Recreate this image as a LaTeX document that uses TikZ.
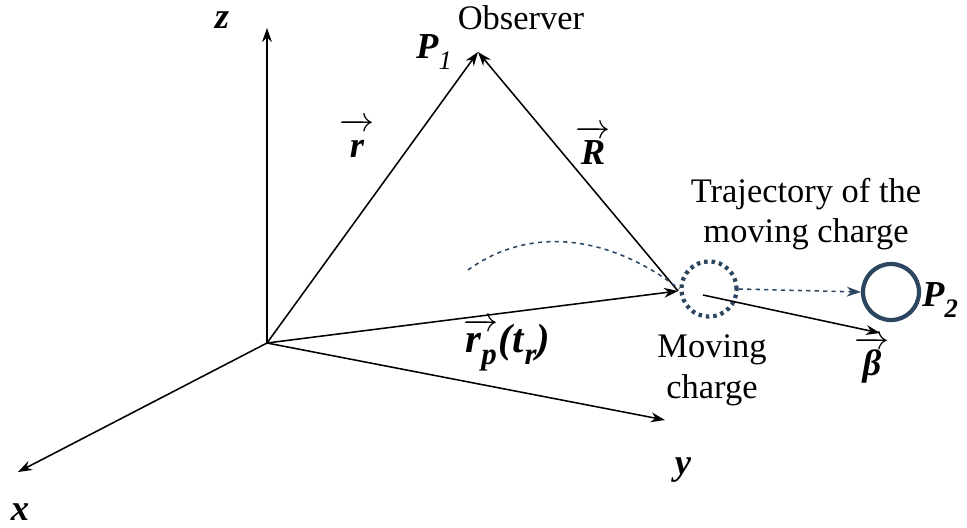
\documentclass[tikz,border=0pt]{standalone}
\usepackage{fontspec}
\setmainfont{Liberation Serif}
\usetikzlibrary{arrows.meta}
\newcommand{\bi}[1]{\textbf{\textit{#1}}}
\newcommand{\sub}[2][19]{\raisebox{-0.28em}{\fontsize{#1}{#1}\selectfont #2}}
\newcommand{\varr}[2][0.74em]{$\overrightarrow{\hbox{\rule{0pt}{#1}#2}}$}
\definecolor{trajblue}{RGB}{44,70,96}

\begin{document}
\begin{tikzpicture}[x=0.025cm,y=-0.025cm,>={Stealth[length=10pt,width=7pt]},line width=1.1pt,
        txt/.style={font=\fontsize{24.5}{29}\selectfont, align=center},
        vlbl/.style={font=\fontsize{26}{30}\selectfont}]
        \useasboundingbox (0,0) rectangle (967,527);
        % axes
        \coordinate (O) at (267,343);
        \coordinate (zend) at (267,28);
        \coordinate (xend) at (18,472);
        \coordinate (yend) at (665,420);
        \draw[->] (O) -- (zend);
        \draw[->] (O) -- (xend);
        \draw[->] (O) -- (yend);
        \node (zlab) [vlbl] at (222,20) {\bi{z}};
        \node (xlab) [vlbl] at (20,512) {\bi{x}};
        \node (ylab) [vlbl] at (683,470) {\bi{y}};

        % observer and charge
        \coordinate (P1) at (478,52);
        \coordinate (q) at (678,291);
        \node (charge) [circle, draw=trajblue, line width=3pt, dash pattern=on 2.5pt off 2.8pt, minimum size=1.38cm] at (709,289) {};
        \node (p2) [circle, draw=trajblue, line width=3pt, minimum size=1.4cm] at (891,292) {};
        \coordinate (bstart) at (703,295);
        \coordinate (bend) at (880,333);

        \draw[->] (O) -- (P1);
        \draw[->] (q) -- (P1);
        \draw[->] (O) -- (q);
        \draw[->] (bstart) -- (bend);

        % trajectory
        \draw[trajblue, dashed] (468,270) .. controls (530,225) and (610,235) .. (charge.west);
        \draw[trajblue, dashed, ->] (charge.east) -- (p2.west);

        % labels
        \node (obs) [txt] at (521,18) {Observer};
        \node (p1lab) [vlbl] at (434,52) {\bi{P}\sub{\textit{1}}};
        \node (rlab) [vlbl] at (357,138) {\varr{\bi{r}}};
        \node (Rlab) [vlbl] at (593,145) {\varr{\bi{R}}};
        \node (rplab) [vlbl, font=\fontsize{29}{32}\selectfont] at (507,345) {\varr[0.55em]{\bi{r}\sub[22]{\bi{p}}}\bi{(t}\sub[22]{\bi{r}}\bi{)}};
        \node (traj) [txt] at (806,214) {Trajectory of the\\moving charge};
        \node (mov) [txt] at (712,370) {Moving\\charge};
        \node (p2lab) [vlbl] at (940,300) {\bi{P}\sub{\bi{2}}};
        \node (blab) [vlbl] at (872,360) {\varr{\bi{β}}};
\end{tikzpicture}
\end{document}
